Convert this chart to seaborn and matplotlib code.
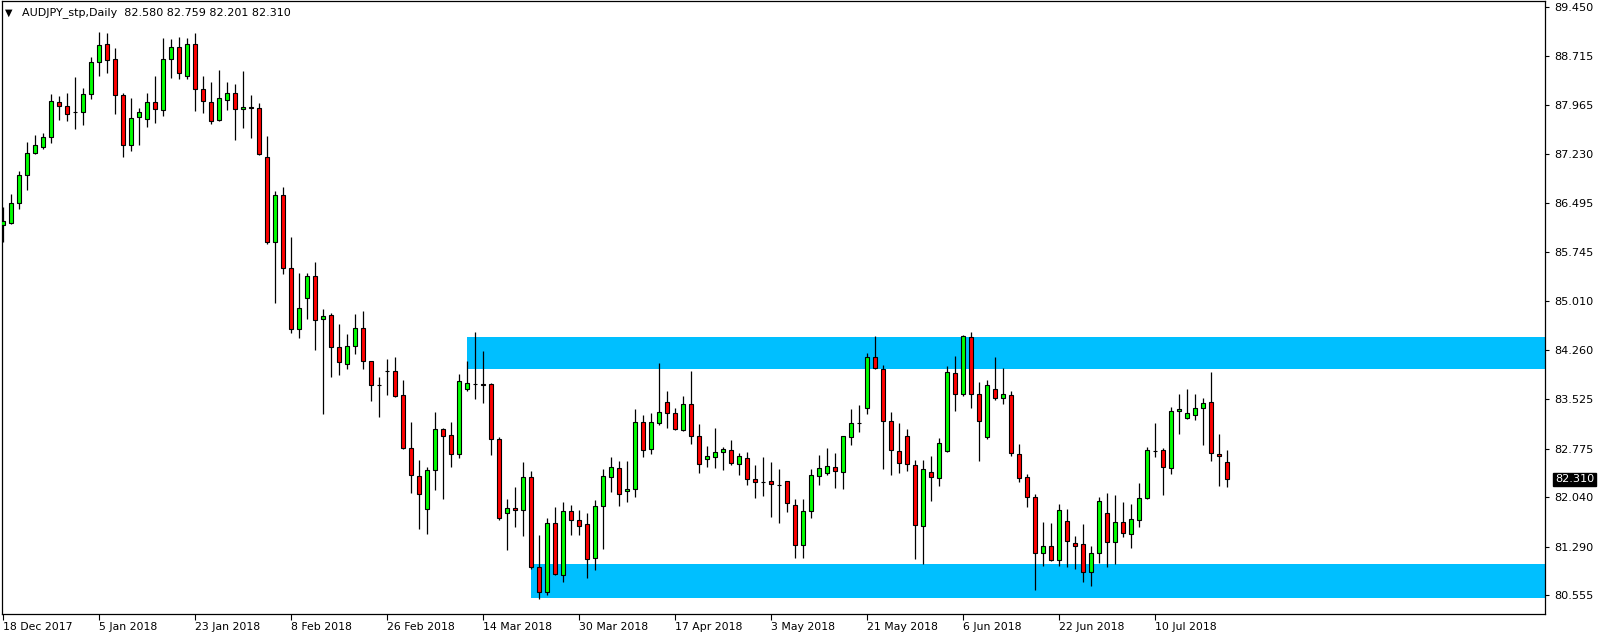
import matplotlib
matplotlib.use("Agg")
import matplotlib.pyplot as plt
import matplotlib.transforms as mtransforms
from matplotlib.patches import Rectangle
import seaborn as sns
import pandas as pd

# Daily AUDJPY candles (18 Dec 2017 -> Jul 2018)
opens = [86.152, 86.192, 86.485, 86.908, 87.241, 87.332, 87.483, 88.012, 87.952, 87.861,
         87.861, 88.133, 88.617, 88.890, 88.663, 88.118, 87.362, 87.786, 87.755, 88.012,
         87.891, 88.663, 88.844, 88.406, 88.890, 88.209, 88.012, 87.740, 88.043, 88.149,
         87.907, 87.937, 87.922, 87.181, 85.905, 86.606, 85.502, 84.580, 85.048, 85.381,
         84.730, 84.791, 84.307, 84.050, 84.322, 84.594, 84.095, 83.742, 83.944, 83.944,
         83.581, 82.779, 82.356, 81.857, 82.447, 83.067, 82.976, 82.689, 83.672, 83.758,
         83.753, 83.748, 82.916, 81.797, 81.872, 81.842, 82.341, 80.980, 80.602, 81.645,
         80.859, 81.827, 81.691, 81.630, 81.116, 81.902, 82.341, 82.477, 82.129, 82.160,
         83.173, 82.765, 83.158, 83.476, 83.309, 83.052, 83.445, 82.961, 82.613, 82.644,
         82.719, 82.750, 82.538, 82.629, 82.311, 82.276, 82.281, 82.221, 82.281, 81.918,
         81.313, 81.827, 82.357, 82.402, 82.493, 82.417, 82.946, 83.158, 83.385, 84.156,
         83.975, 83.188, 82.735, 82.962, 82.523, 81.600, 82.417, 82.326, 82.735, 83.914,
         83.597, 84.459, 83.597, 82.946, 83.672, 83.536, 83.582, 82.689, 82.342, 82.039,
         81.192, 81.298, 81.086, 81.676, 81.344, 81.328, 80.905, 81.192, 81.797, 81.359,
         81.661, 81.480, 81.691, 82.024, 82.745, 82.750, 82.478, 83.340, 83.234, 83.279,
         83.385, 83.476, 82.690, 82.580]
highs = [86.434, 86.626, 86.974, 87.412, 87.518, 87.549, 88.138, 88.108, 88.149, 88.396,
         88.229, 88.693, 89.076, 89.061, 88.834, 88.149, 88.078, 87.922, 88.149, 88.406,
         88.985, 88.970, 88.995, 88.985, 89.061, 88.411, 88.320, 88.501, 88.320, 88.290,
         88.486, 88.123, 87.997, 87.503, 86.666, 86.727, 85.976, 85.431, 85.426, 85.592,
         84.882, 84.821, 84.655, 84.504, 84.806, 84.851, 84.095, 83.853, 84.125, 84.156,
         83.808, 83.173, 82.598, 82.492, 83.324, 83.082, 83.173, 83.899, 84.100, 84.539,
         84.252, 83.763, 82.946, 82.008, 82.195, 82.568, 82.432, 81.464, 81.721, 81.887,
         81.963, 81.918, 81.842, 81.797, 81.993, 82.467, 82.649, 82.588, 82.588, 83.370,
         83.279, 83.309, 84.065, 83.642, 83.385, 83.566, 83.944, 83.143, 82.810, 83.082,
         82.795, 82.901, 82.704, 82.719, 82.523, 82.649, 82.573, 82.468, 82.281, 82.009,
         82.009, 82.468, 82.679, 82.785, 82.710, 82.970, 83.370, 83.430, 84.217, 84.479,
         84.035, 83.325, 83.158, 83.067, 82.599, 82.599, 82.659, 82.931, 84.020, 84.171,
         84.489, 84.534, 83.778, 83.809, 84.156, 83.990, 83.642, 82.841, 82.387, 82.084,
         81.661, 81.646, 81.933, 81.858, 81.449, 81.631, 81.298, 82.039, 82.100, 82.069,
         81.964, 81.933, 82.251, 82.795, 83.158, 82.780, 83.400, 83.597, 83.673, 83.597,
         83.536, 83.930, 82.992, 82.759]
lows = [85.905, 86.177, 86.404, 86.692, 87.236, 87.312, 87.402, 87.750, 87.735, 87.614,
        87.675, 88.068, 88.416, 88.461, 87.841, 87.191, 87.281, 87.372, 87.644, 87.705,
        87.811, 88.385, 88.360, 88.360, 87.886, 87.856, 87.690, 87.735, 87.902, 87.448,
        87.629, 87.478, 87.221, 85.875, 84.983, 85.411, 84.520, 84.450, 84.740, 84.272,
        83.304, 83.863, 83.894, 83.984, 84.201, 83.984, 83.500, 83.258, 83.591, 83.561,
        82.774, 82.109, 81.554, 81.479, 82.154, 82.008, 82.492, 82.628, 83.647, 83.531,
        83.470, 82.684, 81.701, 81.247, 81.595, 81.459, 80.960, 80.496, 80.556, 80.859,
        80.753, 81.464, 81.474, 80.824, 80.934, 81.252, 82.124, 81.903, 81.963, 82.049,
        82.654, 82.689, 83.128, 83.092, 83.052, 83.037, 82.850, 82.412, 82.492, 82.477,
        82.447, 82.523, 82.371, 82.220, 82.024, 82.064, 81.747, 81.656, 81.822, 81.127,
        81.127, 81.732, 82.231, 82.372, 82.185, 82.170, 82.825, 83.032, 83.304, 83.975,
        82.473, 82.372, 82.402, 82.432, 81.101, 81.026, 81.989, 82.205, 82.720, 83.340,
        83.567, 83.385, 82.583, 82.916, 83.506, 83.446, 82.659, 82.266, 81.888, 80.633,
        80.995, 81.071, 80.995, 80.981, 80.960, 80.754, 80.693, 81.041, 80.981, 81.026,
        81.434, 81.268, 81.586, 82.009, 82.644, 82.069, 82.387, 82.992, 83.219, 83.204,
        82.826, 82.584, 82.206, 82.201]
closes = [86.213, 86.485, 86.908, 87.241, 87.362, 87.483, 88.028, 87.952, 87.831, 87.861,
          88.133, 88.617, 88.874, 88.648, 88.118, 87.362, 87.770, 87.861, 88.012, 87.907,
          88.663, 88.844, 88.451, 88.890, 88.209, 88.028, 87.725, 88.073, 88.149, 87.907,
          87.937, 87.922, 87.226, 85.905, 86.606, 85.502, 84.580, 84.898, 85.381, 84.725,
          84.776, 84.307, 84.080, 84.322, 84.594, 84.095, 83.732, 83.742, 83.944, 83.576,
          82.779, 82.371, 82.084, 82.447, 83.067, 82.961, 82.689, 83.793, 83.763, 83.758,
          83.732, 82.916, 81.721, 81.872, 81.842, 82.341, 80.980, 80.602, 81.645, 80.874,
          81.827, 81.691, 81.600, 81.101, 81.902, 82.356, 82.492, 82.084, 82.160, 83.173,
          82.750, 83.173, 83.324, 83.309, 83.067, 83.445, 82.961, 82.538, 82.659, 82.719,
          82.765, 82.553, 82.659, 82.311, 82.266, 82.266, 82.236, 82.221, 81.948, 81.313,
          81.827, 82.372, 82.478, 82.508, 82.432, 82.962, 83.158, 83.158, 84.156, 83.990,
          83.188, 82.750, 82.553, 82.538, 81.616, 82.462, 82.342, 82.856, 83.930, 83.597,
          84.474, 83.597, 83.188, 83.733, 83.536, 83.597, 82.704, 82.326, 82.039, 81.192,
          81.298, 81.086, 81.842, 81.374, 81.298, 80.905, 81.192, 81.979, 81.359, 81.661,
          81.495, 81.706, 82.024, 82.750, 82.745, 82.493, 83.340, 83.370, 83.310, 83.385,
          83.461, 82.705, 82.659, 82.310]

# date labels every 12 bars
date_labels = ["18 Dec 2017", "5 Jan 2018", "23 Jan 2018", "8 Feb 2018", "26 Feb 2018",
               "14 Mar 2018", "30 Mar 2018", "17 Apr 2018", "3 May 2018", "21 May 2018",
               "6 Jun 2018", "22 Jun 2018", "10 Jul 2018"]
price_ticks = [89.450, 88.715, 87.965, 87.230, 86.495, 85.745, 85.010,
               84.260, 83.525, 82.775, 82.040, 81.290, 80.555]

# supply / demand zones (start bar, low, high)
zone_start = [58, 66]
zone_low = [83.984, 80.512]
zone_high = [84.464, 81.031]

df = pd.DataFrame({"open": opens, "high": highs, "low": lows, "close": closes})
df["bar"] = range(len(df))
df["body"] = df["close"] - df["open"]
df["color"] = ["#00FF00" if b > 0 else ("#FF0000" if b < 0 else "black") for b in df["body"]]

sns.set_style("white")
plt.rcParams["font.family"] = ["DejaVu Sans"]

W, H = 1604, 638
fig = plt.figure(figsize=(W / 100, H / 100), dpi=100)
ax = fig.add_axes([2 / W, 24 / H, 1543 / W, 613.5 / H])

xmax = 192.7
for s, lo, hi in zip(zone_start, zone_low, zone_high):
    ax.add_patch(Rectangle((s, lo), xmax + 10 - s, hi - lo, facecolor="#00BFFF",
                           edgecolor="none", zorder=1))

ax.vlines(df["bar"], df["low"], df["high"], color="black", linewidth=0.9, zorder=2)
ax.bar(df["bar"], df["body"], bottom=df["open"], width=0.48, color=df["color"],
       edgecolor="black", linewidth=0.8, zorder=3)

ax.set_xlim(-0.16, xmax)
ax.set_ylim(80.274, 89.553)

ax.yaxis.tick_right()
ax.set_yticks(price_ticks)
ax.set_yticklabels([f"{p:.3f}" for p in price_ticks])
ax.set_xticks(range(0, 12 * len(date_labels), 12))
ax.set_xticklabels(date_labels)
for lab in ax.get_xticklabels():
    lab.set_horizontalalignment("left")
ax.tick_params(axis="y", which="both", right=True, left=False, direction="out",
               length=3, width=0.8, pad=4, labelsize=8.1, colors="black")
ax.tick_params(axis="x", bottom=True, direction="out", length=4, width=0.8,
               pad=1.5, labelsize=7.8, colors="black")
for sp in ax.spines.values():
    sp.set_color("black")
    sp.set_linewidth(0.9)
ax.grid(False)

# current price marker on the price scale
trans = mtransforms.blended_transform_factory(ax.transAxes, ax.transData)
ax.text(1.0 + 10 / 1543, closes[-1], f"{closes[-1]:.3f}", transform=trans,
        color="white", fontsize=8.1, va="center", ha="left", zorder=5,
        bbox=dict(boxstyle="square,pad=0.15", facecolor="black", edgecolor="black"),
        clip_on=False)

# header
fig.text(5 / W, 1 - 13 / H, "\u25bc", fontsize=7, va="center", ha="left", color="black")
fig.text(22 / W, 1 - 13 / H,
         f"AUDJPY_stp,Daily  {opens[-1]:.3f} {highs[-1]:.3f} {lows[-1]:.3f} {closes[-1]:.3f}",
         fontsize=8.0, va="center", ha="left", color="black")

fig.savefig("out.png", dpi=100, facecolor="white")
